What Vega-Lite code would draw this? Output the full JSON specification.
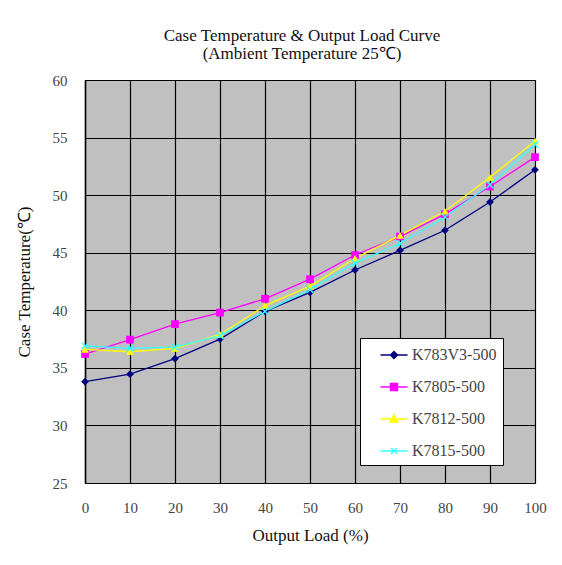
{
  "$schema": "https://vega.github.io/schema/vega-lite/v6.json",
  "width": 450,
  "height": 403,
  "autosize": {"type": "none"},
  "padding": {"left": 85, "top": 80, "right": 27, "bottom": 82},
  "background": "white",
  "title": {
    "text": ["Case Temperature & Output Load Curve", "(Ambient Temperature 25℃)"],
    "font": "Liberation Serif",
    "fontSize": 17,
    "fontWeight": "normal",
    "color": "#111",
    "lineHeight": 18,
    "offset": 10,
    "anchor": "middle",
    "dx": -8
  },
  "data": {
    "values": [
      {"load": 0, "series": "K783V3-500", "temp": 33.8},
      {"load": 10, "series": "K783V3-500", "temp": 34.45},
      {"load": 20, "series": "K783V3-500", "temp": 35.8},
      {"load": 30, "series": "K783V3-500", "temp": 37.5},
      {"load": 40, "series": "K783V3-500", "temp": 39.9},
      {"load": 50, "series": "K783V3-500", "temp": 41.55},
      {"load": 60, "series": "K783V3-500", "temp": 43.5},
      {"load": 70, "series": "K783V3-500", "temp": 45.2},
      {"load": 80, "series": "K783V3-500", "temp": 46.95},
      {"load": 90, "series": "K783V3-500", "temp": 49.4},
      {"load": 100, "series": "K783V3-500", "temp": 52.2},
      {"load": 0, "series": "K7805-500", "temp": 36.2},
      {"load": 10, "series": "K7805-500", "temp": 37.45},
      {"load": 20, "series": "K7805-500", "temp": 38.8},
      {"load": 30, "series": "K7805-500", "temp": 39.8},
      {"load": 40, "series": "K7805-500", "temp": 41.0},
      {"load": 50, "series": "K7805-500", "temp": 42.7},
      {"load": 60, "series": "K7805-500", "temp": 44.8},
      {"load": 70, "series": "K7805-500", "temp": 46.4},
      {"load": 80, "series": "K7805-500", "temp": 48.35},
      {"load": 90, "series": "K7805-500", "temp": 50.75},
      {"load": 100, "series": "K7805-500", "temp": 53.3},
      {"load": 0, "series": "K7812-500", "temp": 36.6},
      {"load": 10, "series": "K7812-500", "temp": 36.4},
      {"load": 20, "series": "K7812-500", "temp": 36.7},
      {"load": 30, "series": "K7812-500", "temp": 37.9},
      {"load": 40, "series": "K7812-500", "temp": 40.4},
      {"load": 50, "series": "K7812-500", "temp": 42.1},
      {"load": 60, "series": "K7812-500", "temp": 44.5},
      {"load": 70, "series": "K7812-500", "temp": 46.5},
      {"load": 80, "series": "K7812-500", "temp": 48.6},
      {"load": 90, "series": "K7812-500", "temp": 51.55},
      {"load": 100, "series": "K7812-500", "temp": 54.7},
      {"load": 0, "series": "K7815-500", "temp": 36.9},
      {"load": 10, "series": "K7815-500", "temp": 36.7},
      {"load": 20, "series": "K7815-500", "temp": 36.8},
      {"load": 30, "series": "K7815-500", "temp": 37.8},
      {"load": 40, "series": "K7815-500", "temp": 39.9},
      {"load": 50, "series": "K7815-500", "temp": 41.8},
      {"load": 60, "series": "K7815-500", "temp": 44.1},
      {"load": 70, "series": "K7815-500", "temp": 45.8},
      {"load": 80, "series": "K7815-500", "temp": 48.1},
      {"load": 90, "series": "K7815-500", "temp": 50.9},
      {"load": 100, "series": "K7815-500", "temp": 54.4}
    ]
  },
  "encoding": {
    "x": {
      "field": "load",
      "type": "quantitative",
      "scale": {"domain": [0, 100], "nice": false, "zero": false},
      "axis": {
        "title": "Output Load (%)",
        "values": [0, 10, 20, 30, 40, 50, 60, 70, 80, 90, 100],
        "grid": true,
        "gridColor": "#000",
        "gridWidth": 1.2,
        "gridOpacity": 1,
        "ticks": false,
        "domain": false,
        "labelFlush": false,
        "labelPadding": 17,
        "labelFont": "Liberation Serif",
        "labelFontSize": 15,
        "labelColor": "#444",
        "titleFont": "Liberation Serif",
        "titleFontSize": 17,
        "titleFontWeight": "normal",
        "titleColor": "#111",
        "titlePadding": 12
      }
    },
    "y": {
      "field": "temp",
      "type": "quantitative",
      "scale": {"domain": [25, 60], "nice": false, "zero": false},
      "axis": {
        "title": "Case Temperature(℃)",
        "values": [25, 30, 35, 40, 45, 50, 55, 60],
        "grid": true,
        "gridColor": "#000",
        "gridWidth": 1.2,
        "gridOpacity": 1,
        "ticks": false,
        "domain": true,
        "domainColor": "#000",
        "domainWidth": 1.5,
        "labelFlush": false,
        "labelPadding": 18,
        "labelFont": "Liberation Serif",
        "labelFontSize": 15,
        "labelColor": "#444",
        "titleFont": "Liberation Serif",
        "titleFontSize": 17,
        "titleFontWeight": "normal",
        "titleColor": "#111",
        "titlePadding": 19
      }
    }
  },
  "layer": [
    {
      "mark": {"type": "line", "strokeWidth": 1.3},
      "encoding": {
        "color": {
          "field": "series",
          "type": "nominal",
          "scale": {
            "domain": ["K783V3-500", "K7805-500", "K7812-500", "K7815-500"],
            "range": ["#000080", "#FF00FF", "#FFFF00", "#33FFFF"]
          },
          "legend": {
            "title": null,
            "orient": "none",
            "legendX": 275,
            "legendY": 258,
            "fillColor": "white",
            "strokeColor": "#000",
            "padding": 6,
            "symbolOffset": 17,
            "symbolSize": 400,
            "rowPadding": 13,
            "labelOffset": 7,
            "labelFont": "Liberation Serif",
            "labelFontSize": 16,
            "labelColor": "#444",
            "labelLimit": 200,
            "encode": {
              "symbols": {
                "update": {
                  "shape": {"signal": "datum.value === 'K783V3-500' ? 'M-1.35,0L1.35,0M0,-0.36L0.36,0L0,0.36L-0.36,0Z' : datum.value === 'K7805-500' ? 'M-1.35,0L1.35,0M-0.36,-0.36L0.36,-0.36L0.36,0.36L-0.36,0.36Z' : datum.value === 'K7812-500' ? 'M-1.35,0L1.35,0M0,-0.42L0.42,0.3L-0.42,0.3Z' : 'M-1.35,0L1.35,0M-0.3,-0.3L0.3,0.3M-0.3,0.3L0.3,-0.3'"},
                  "fill": {"signal": "datum.value === 'K7815-500' ? 'transparent' : scale('color', datum.value)"},
                  "stroke": {"signal": "scale('color', datum.value)"},
                  "strokeWidth": {"value": 1.3},
                  "opacity": {"value": 1}
                }
              }
            }
          }
        },
        "detail": {"field": "series"}
      }
    },
    {
      "transform": [{"filter": "datum.series === 'K783V3-500'"}],
      "mark": {"type": "point", "shape": "diamond", "filled": true, "opacity": 1, "size": 60, "color": "#000080"}
    },
    {
      "transform": [{"filter": "datum.series === 'K7805-500'"}],
      "mark": {"type": "point", "shape": "square", "filled": true, "opacity": 1, "size": 60, "color": "#FF00FF"}
    },
    {
      "transform": [{"filter": "datum.series === 'K7812-500'"}],
      "mark": {"type": "point", "shape": "triangle-up", "filled": true, "opacity": 1, "size": 60, "color": "#FFFF00"}
    },
    {
      "transform": [{"filter": "datum.series === 'K7815-500'"}],
      "mark": {"type": "point", "shape": "M-1,-1L1,1M-1,1L1,-1", "filled": false, "opacity": 1, "size": 45, "strokeWidth": 1.4, "color": "#33FFFF"}
    }
  ],
  "config": {
    "view": {"fill": "#C0C0C0", "stroke": "#808080", "strokeWidth": 1}
  }
}
